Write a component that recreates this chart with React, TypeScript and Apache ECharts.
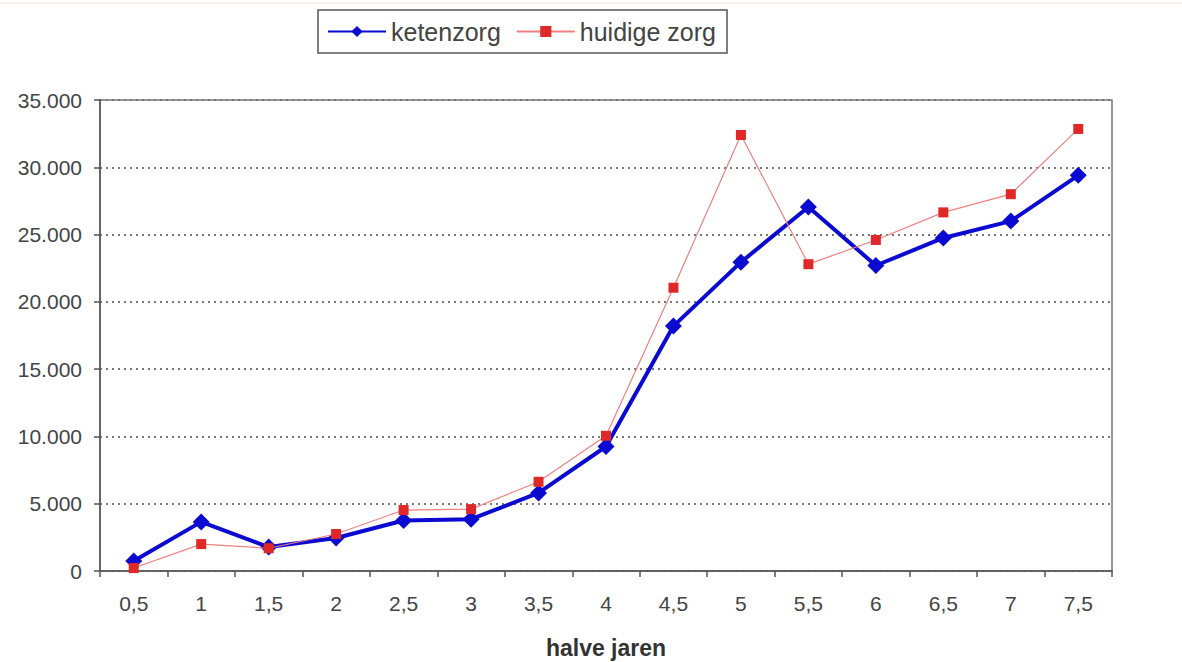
import React, { useEffect, useRef } from "react";
import * as echarts from "echarts";

const categories = ["0,5", "1", "1,5", "2", "2,5", "3", "3,5", "4", "4,5", "5", "5,5", "6", "6,5", "7", "7,5"];
const ketenzorg = [750, 3650, 1780, 2450, 3750, 3850, 5800, 9250, 18200, 22950, 27050, 22700, 24750, 26000, 29400];
const huidigeZorg = [220, 2000, 1690, 2750, 4530, 4600, 6630, 10050, 21050, 32400, 22800, 24600, 26650, 28000, 32850];
const yTicks = { min: 0, max: 35000, interval: 5000 };

const fmt = (v: number) => (v === 0 ? "0" : Math.floor(v / 1000) + "." + String(v % 1000).padStart(3, "0"));

export default function App() {
  const ref = useRef<HTMLDivElement>(null);
  useEffect(() => {
    if (!ref.current) return;
    const chart = echarts.init(ref.current, undefined, { renderer: "svg" });
    const font = "Arial, 'Liberation Sans', sans-serif";
    chart.setOption({
      animation: false,
      backgroundColor: "#ffffff",
      textStyle: { fontFamily: font },
      graphic: [
        { type: "line", shape: { x1: 0, y1: 3, x2: 1182, y2: 3 }, style: { stroke: "#f6dede", lineWidth: 1 } },
      ],
      legend: {
        left: 318,
        top: 10,
        orient: "horizontal",
        itemWidth: 58,
        itemHeight: 14,
        itemGap: 15,
        padding: [9, 11, 9, 9],
        borderColor: "#555",
        borderWidth: 1.5,
        textStyle: { fontSize: 25, color: "#444", fontFamily: font },
        data: ["ketenzorg", "huidige zorg"],
      },
      grid: {
        left: 100,
        right: 70,
        top: 100,
        bottom: 91,
        show: true,
        borderColor: "#777",
        borderWidth: 1.5,
        outerBoundsMode: "none",
        containLabel: false,
      },
      xAxis: {
        type: "category",
        data: categories,
        boundaryGap: true,
        name: "halve jaren",
        nameLocation: "middle",
        nameGap: 65,
        nameTextStyle: { fontSize: 23, fontWeight: "bold", color: "#333", fontFamily: font },
        axisLine: { lineStyle: { color: "#555", width: 1.5 } },
        axisTick: { show: true, length: 6, inside: false, lineStyle: { color: "#555", width: 1.5 } },
        axisLabel: { fontSize: 21, color: "#444", margin: 22, fontFamily: font },
      },
      yAxis: {
        type: "value",
        min: yTicks.min,
        max: yTicks.max,
        interval: yTicks.interval,
        axisLine: { show: true, lineStyle: { color: "#555", width: 1.5 } },
        axisTick: { show: true, length: 6, lineStyle: { color: "#555", width: 1.5 } },
        axisLabel: { fontSize: 21, color: "#444", margin: 18, formatter: (v: number) => fmt(v), fontFamily: font },
        splitLine: { show: true, lineStyle: { color: "#777", type: [2, 4], width: 2 } },
      },
      series: [
        {
          name: "ketenzorg",
          type: "line",
          data: ketenzorg,
          symbol: "diamond",
          symbolSize: 17,
          itemStyle: { color: "#0a0ad0" },
          lineStyle: { color: "#0a0ad0", width: 4 },
          z: 3,
        },
        {
          name: "huidige zorg",
          type: "line",
          data: huidigeZorg,
          symbol: "rect",
          symbolSize: 10,
          itemStyle: { color: "#e02828" },
          lineStyle: { color: "#f08080", width: 1.2 },
          z: 4,
        },
      ],
    });
    return () => chart.dispose();
  }, []);
  return <div ref={ref} style={{ position: "fixed", left: 0, top: 0, width: 1182, height: 662 }} />;
}
